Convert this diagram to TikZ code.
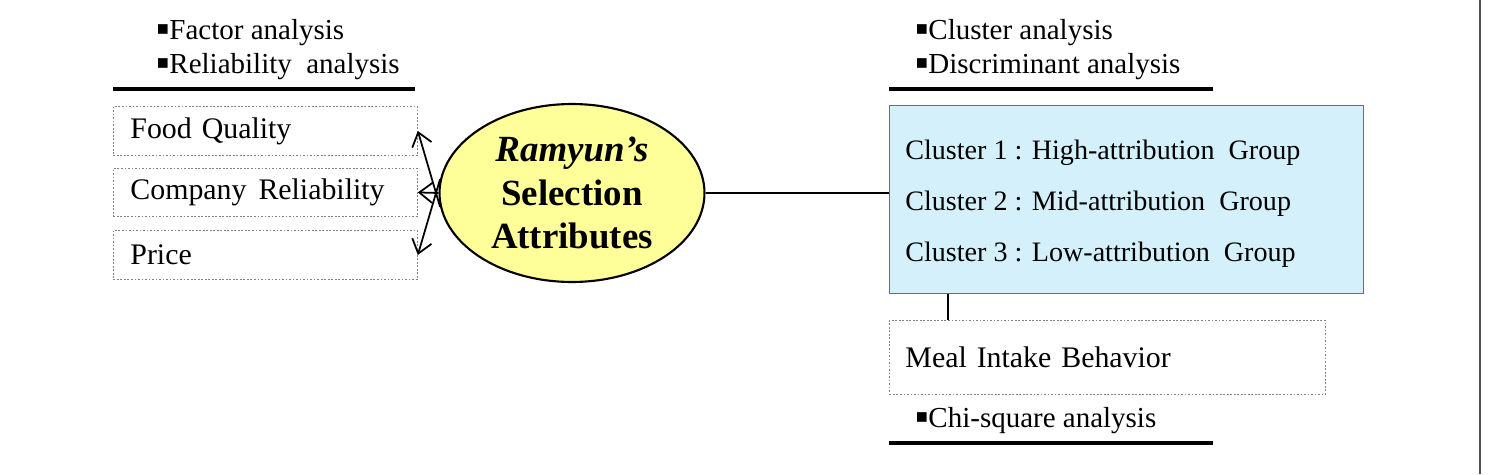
\documentclass[tikz,border=0pt]{standalone}
\usepackage{fontspec}
\setmainfont{Liberation Serif}
\newfontfamily\symfont{DejaVu Sans}
\usetikzlibrary{arrows.meta,shapes.geometric}
\definecolor{cyanfill}{RGB}{212,241,251}
\definecolor{yelfill}{RGB}{255,255,153}
\definecolor{bordergray}{RGB}{110,110,110}
\definecolor{framegray}{RGB}{80,80,80}
\newcommand{\sqbul}{\raisebox{2.6pt}{\symfont\fontsize{11}{11}\selectfont ▪}}
\begin{document}
\begin{tikzpicture}[x=0.02cm,y=-0.02cm,
  hdr/.style={anchor=base west, inner sep=0pt, font=\fontsize{16.5}{19}\selectfont},
  clt/.style={anchor=base west, inner sep=0pt, font=\fontsize{16}{19}\selectfont},
  dotbox/.style={draw=gray, dash pattern=on 1pt off 1pt, line width=0.5pt, anchor=north west, inner xsep=0.34cm, inner ysep=0pt, align=left, font=\fontsize{17}{20}\selectfont},
  hrule/.style={line width=2pt},
  conn/.style={line width=1pt},
  arr/.style={conn, -{Straight Barb[length=2.6mm,width=4mm]}},
]
\useasboundingbox (0,0) rectangle (1491,474);

% left headers
\node[hdr] (fa) at (156,39) {\sqbul Factor analysis};
\node[hdr] (ra) at (156,73) {\sqbul Reliability\ \ analysis};
\draw[hrule] (113,89) -- (415,89);

% left boxes
\node[dotbox, text width=5.4cm, minimum height=0.98cm] (food) at (113,106) {Food Quality};
\node[dotbox, text width=5.4cm, minimum height=0.96cm] (comp) at (113,168) {Company\hspace{0.4em}Reliability};
\node[dotbox, text width=5.4cm, minimum height=0.98cm] (price) at (113,230) {Price};

% ellipse
\node[ellipse, draw, line width=1.2pt, fill=yelfill, minimum width=5.3cm, minimum height=3.56cm, inner sep=0pt, align=center, font=\fontsize{21}{24.5}\selectfont\bfseries] (ell) at (572,193) {\textit{Ramyun’s}\\[0.5pt]Selection\\[0.5pt]Attributes};

\draw[arr] (ell.186) -- (food.east);
\draw[arr] (ell.180) -- (comp.east);
\draw[arr] (ell.174) -- (price.east);

% right headers
\node[hdr] (ca) at (915,39) {\sqbul Cluster analysis};
\node[hdr] (da) at (915,73) {\sqbul Discriminant\ analysis};
\draw[hrule] (889,89) -- (1213,89);

% cluster box
\node[draw=bordergray, line width=0.8pt, fill=cyanfill, anchor=north west, minimum width=9.48cm, minimum height=3.76cm, inner sep=0pt] (cl) at (889,105) {};
\node[clt] (cl1) at (905,159) {Cluster 1 : High-attribution\ \ Group};
\node[clt] (cl2) at (905,210) {Cluster 2 : Mid-attribution\ \ Group};
\node[clt] (cl3) at (905,261) {Cluster 3 : Low-attribution\ \ Group};

\draw[conn] (ell.east) -- (ell.east -| cl.west);

% meal box
\node[dotbox, text width=8.08cm, inner xsep=0.32cm, minimum height=1.48cm] (meal) at (889,320) {Meal Intake Behavior};
\coordinate (cv) at ([xshift=1.18cm]cl.south west);
\draw[conn] (cv) -- (cv |- meal.north);

\node[hdr] (chi) at (915,427) {\sqbul Chi-square analysis};
\draw[hrule] (889,443) -- (1213,443);

% right frame line
\draw[line width=1.1pt, framegray] (1480,0) -- (1480,474);
\end{tikzpicture}
\end{document}
